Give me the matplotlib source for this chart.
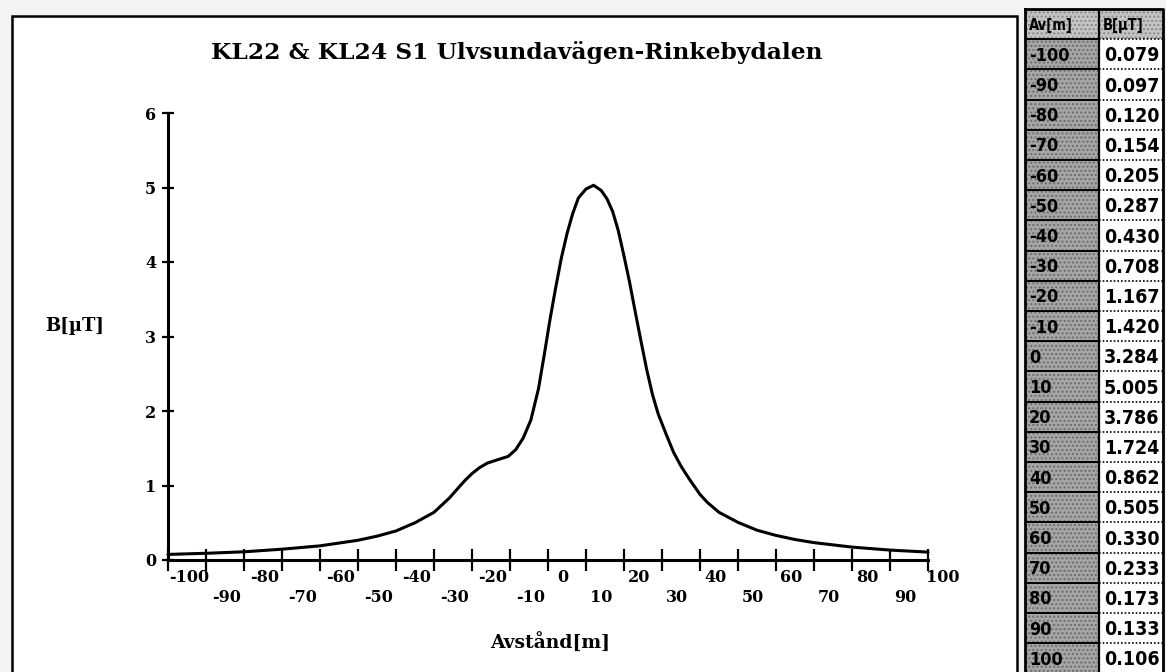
import matplotlib
matplotlib.use("Agg")
import matplotlib.pyplot as plt
from matplotlib.patches import Rectangle
from matplotlib import font_manager

# table on the right: distance [m] and field [uT]
dist = [-100, -90, -80, -70, -60, -50, -40, -30, -20, -10, 0,
        10, 20, 30, 40, 50, 60, 70, 80, 90, 100]
b_text = ["0.079", "0.097", "0.120", "0.154", "0.205", "0.287", "0.430", "0.708", "1.167",
          "1.420", "3.284", "5.005", "3.786", "1.724", "0.862", "0.505", "0.330", "0.233",
          "0.173", "0.133", "0.106"]

# curve
curve_x = [-100, -90, -80, -70, -60, -50, -45, -40, -35, -30, -26, -22, -20, -18, -16, -13,
           -10.5, -8.5, -6.5, -4.5, -2.5, -1, 0.5, 2, 3.5, 5, 6.5, 8, 10, 12, 14, 15.5,
           17, 18.5, 20, 21.5, 23, 24.5, 26, 27.5, 29, 31, 33, 35, 37, 40, 42, 45,
           50, 55, 60, 65, 70, 80, 90, 100]
curve_b = [0.075, 0.09, 0.11, 0.145, 0.19, 0.265, 0.32, 0.39, 0.50, 0.64, 0.83, 1.06, 1.16,
           1.24, 1.30, 1.35, 1.39, 1.48, 1.64, 1.88, 2.30, 2.75, 3.22, 3.65, 4.05, 4.38, 4.65,
           4.86, 4.98, 5.03, 4.96, 4.85, 4.68, 4.42, 4.08, 3.72, 3.32, 2.93, 2.55, 2.22,
           1.96, 1.70, 1.45, 1.26, 1.10, 0.88, 0.77, 0.64, 0.505, 0.40, 0.33, 0.275, 0.233,
           0.173, 0.133, 0.106]

x_ticks = list(range(-100, 101, 10))
y_ticks = [0, 1, 2, 3, 4, 5, 6]

title = "KL22 & KL24 S1 Ulvsundavägen-Rinkebydalen"

W, H = 1166, 672
serif = "DejaVu Serif"
cond = any(f.name == "DejaVu Sans" and f.stretch == "condensed"
           for f in font_manager.fontManager.ttflist)
stretch = "condensed" if cond else "normal"
val_size = 14 if cond else 12.5


def fx(px):
    return px / W


def fy(py):
    return 1 - py / H


fig = plt.figure(figsize=(W / 100, H / 100), dpi=100)
fig.patch.set_facecolor("#f3f3f3")

# white panel with black frame
fig.patches.append(Rectangle((fx(12), fy(690)), fx(1017) - fx(12), fy(16) - fy(690),
                             transform=fig.transFigure, facecolor="white",
                             edgecolor="black", lw=1.8, zorder=-5))

ax = fig.add_axes([fx(168), fy(560), fx(928) - fx(168), fy(113) - fy(560)])
ax.set_zorder(2)
ax.set_facecolor("none")
ax.plot(curve_x, curve_b, color="black", lw=2.2, solid_capstyle="round",
        solid_joinstyle="round", clip_on=False)
ax.set_xlim(-100, 100)
ax.set_ylim(0, 6)
for s in ["top", "right"]:
    ax.spines[s].set_visible(False)
for s in ["left", "bottom"]:
    ax.spines[s].set_linewidth(2.2)

ax.set_yticks(y_ticks)
ax.set_yticklabels([str(v) for v in y_ticks], fontfamily=serif, fontweight="bold", fontsize=11.5)
ax.tick_params(axis="y", direction="inout", length=9, width=1.6, pad=4)
ax.set_xticks(x_ticks)
ax.set_xticklabels([])
ax.tick_params(axis="x", direction="inout", length=16, width=1.6)

# staggered x labels, shifted right like the original
for i, v in enumerate(x_ticks):
    off = 5.5 if v < 0 else 4.0
    yrow = -0.040 if i % 2 == 0 else -0.085
    ax.text(v + off, yrow, str(v), transform=ax.get_xaxis_transform(), ha="center",
            va="center", fontfamily=serif, fontweight="bold", fontsize=11.5)

fig.text(fx(517), fy(52), title, ha="center", va="center", fontfamily=serif,
         fontweight="bold", fontsize=16.8)
fig.text(fx(75), fy(326), "B[µT]", ha="center", va="center", fontfamily=serif,
         fontweight="bold", fontsize=13)
fig.text(fx(550), fy(643), "Avstånd[m]", ha="center", va="center", fontfamily=serif,
         fontweight="bold", fontsize=13.5)

# table
tx0, tx1, ty0 = 1025, 1163, 9
nrows = len(dist) + 1
tab = fig.add_axes([fx(tx0), fy(ty0 + nrows * 30.2), fx(tx1) - fx(tx0),
                    fy(ty0) - fy(ty0 + nrows * 30.2)])
tab.set_xlim(0, 1)
tab.set_ylim(nrows, 0)
tab.axis("off")
split = (1099 - tx0) / (tx1 - tx0)

tab.add_patch(Rectangle((0, 0), 1, 1, facecolor="#c4c4c4", hatch="....",
                        edgecolor="#8a8a8a", lw=0))
tab.text(0.03, 0.55, "Av[m]", ha="left", va="center", fontfamily="DejaVu Sans",
         fontstretch=stretch, fontweight="bold", fontsize=10.5)
tab.text(split + 0.03, 0.55, "B[µT]", ha="left", va="center", fontfamily="DejaVu Sans",
         fontstretch=stretch, fontweight="bold", fontsize=10.5)

for i, (d, bt) in enumerate(zip(dist, b_text)):
    r = i + 1
    tab.add_patch(Rectangle((0, r), split, 1, facecolor="#a6a6a6", hatch="....",
                            edgecolor="#6c6c6c", lw=0))
    tab.add_patch(Rectangle((split, r), 1 - split, 1, facecolor="white", lw=0))
    tab.text(0.03, r + 0.55, str(d), ha="left", va="center", fontfamily="DejaVu Sans",
             fontstretch=stretch, fontweight="bold", fontsize=13)
    tab.text(split + 0.035, r + 0.55, bt, ha="left", va="center", fontfamily="DejaVu Sans",
             fontstretch=stretch, fontweight="bold", fontsize=val_size)
    tab.plot([0, split], [r, r], color="black", lw=1.4)
    tab.plot([split, 1], [r, r], color="black", lw=1.2, ls=(0, (1, 1.2)))

tab.plot([0, 0, 1, 1, 0], [0, nrows, nrows, 0, 0], color="black", lw=2.0, clip_on=False)
tab.plot([split, split], [0, nrows], color="black", lw=1.6)

fig.savefig("out.png", dpi=100, facecolor=fig.get_facecolor())
